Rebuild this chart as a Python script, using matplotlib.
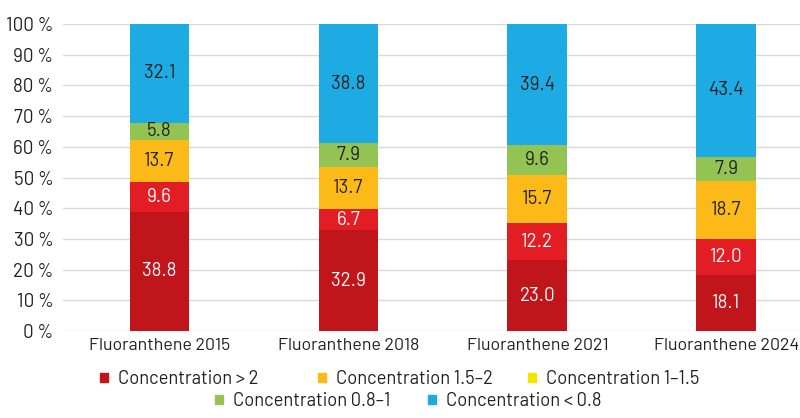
import matplotlib.pyplot as plt
from matplotlib.patches import Patch
import numpy as np

plt.rcParams['font.family'] = ['Barlow', 'DejaVu Sans']

categories = ['Fluoranthene 2015', 'Fluoranthene 2018', 'Fluoranthene 2021', 'Fluoranthene 2024']
conc_gt2 = [38.8, 32.9, 23.0, 18.1]
conc_red2 = [9.6, 6.7, 12.2, 12.0]
conc_15_2 = [13.7, 13.7, 15.7, 18.7]
conc_1_15 = [0, 0, 0, 0]
conc_08_1 = [5.8, 7.9, 9.6, 7.9]
conc_lt08 = [32.1, 38.8, 39.4, 43.4]

series = [
    (conc_gt2, '#C0161B', 'white'),
    (conc_red2, '#E31D24', 'white'),
    (conc_15_2, '#FBBA17', '#231F20'),
    (conc_1_15, '#F2E500', '#231F20'),
    (conc_08_1, '#92C353', '#231F20'),
    (conc_lt08, '#1EAAE2', '#231F20'),
]
text_col = '#231F20'

fig = plt.figure(figsize=(8, 4.18), dpi=100)
ax = fig.add_axes([0.079, 0.208, 0.921, 0.7345])

x = np.arange(len(categories))
bottom = np.zeros(len(categories))
for vals, col, tcol in series:
    vals = np.array(vals)
    ax.bar(x, vals, 0.317, bottom=bottom, color=col, zorder=3)
    for xi, b, v in zip(x, bottom, vals):
        if v > 0:
            ax.text(xi, b + v / 2, f'{v:.1f}', ha='center', va='center',
                    color=tcol, fontsize=13.5, zorder=4)
    bottom += vals

ax.set_xlim(-0.51, 3.39)
ax.set_ylim(0, 100)
ax.set_yticks(np.arange(0, 101, 10))
ax.set_yticklabels([f'{v} %' for v in range(0, 101, 10)], fontsize=13.5, color=text_col)
ax.set_xticks(x)
ax.set_xticklabels(categories, fontsize=12.8, color=text_col)
ax.tick_params(axis='y', length=0, pad=7)
ax.tick_params(axis='x', length=0, pad=5)
ax.grid(axis='y', color='#D9D9D9', linewidth=1, zorder=0)
for s in ax.spines.values():
    s.set_visible(False)

# legend entries: (label, colour, left px, centre y px)
legend_items = [
    ('Concentration > 2', '#C0161B', 100, 379),
    ('Concentration 1.5\u20132', '#FBBA17', 318, 379),
    ('Concentration 1\u20131.5', '#F2E500', 528, 379),
    ('Concentration 0.8\u20131', '#92C353', 215, 401),
    ('Concentration < 0.8', '#1EAAE2', 428, 401),
]
for label, col, px, py in legend_items:
    leg = fig.legend(handles=[Patch(color=col, label=label)], loc='center left',
                     bbox_to_anchor=(px / 800, 1 - py / 418), frameon=False,
                     fontsize=13.2, handlelength=0.45, handleheight=0.45,
                     handletextpad=0.55, labelcolor=text_col, borderpad=0,
                     borderaxespad=0)

fig.savefig('out.png', dpi=100)
